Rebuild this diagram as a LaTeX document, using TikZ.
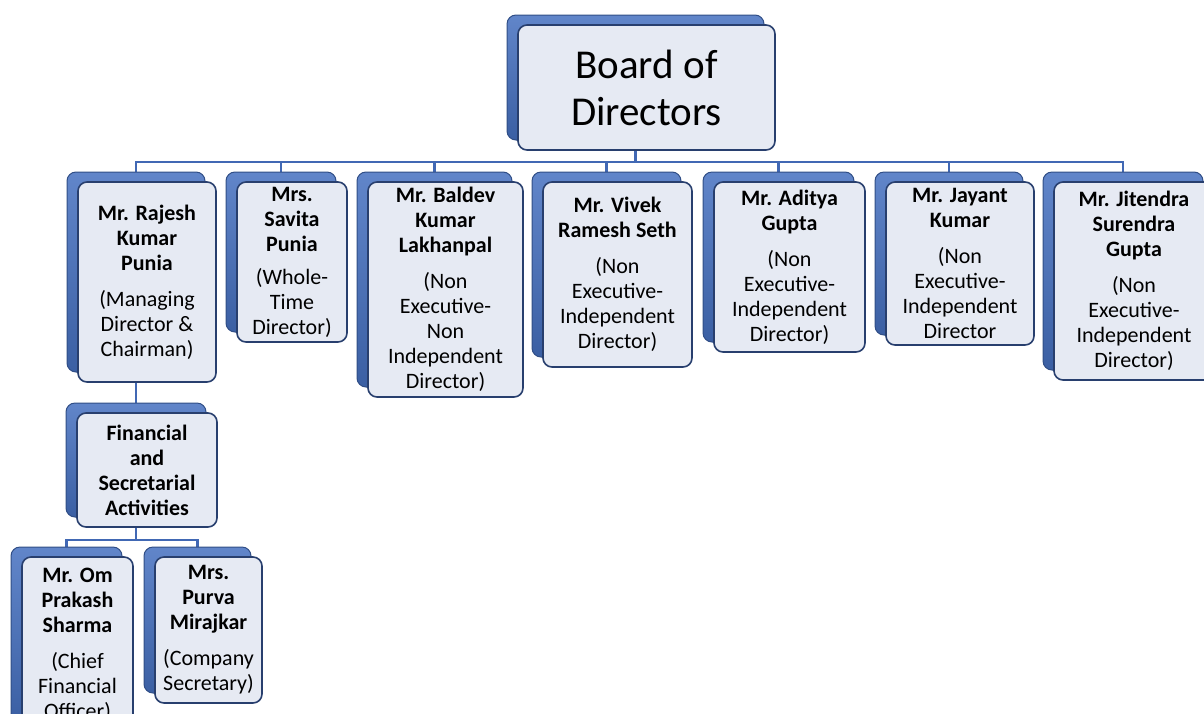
\documentclass[tikz,border=0pt]{standalone}
\usepackage{fontspec}
\setmainfont{Carlito}
\usepackage{xcolor}
\usepackage{tikz}
\usetikzlibrary{shadows}
\usetikzlibrary{backgrounds}
\definecolor{linecolor}{HTML}{4168B4}
\definecolor{backcolor}{HTML}{4570C0}
\definecolor{edgecolor}{HTML}{283F6E}
\definecolor{facecolor}{HTML}{E6EAF3}

\begin{document}
\begin{tikzpicture}[x=1pt,y=-1pt,
  card/.style={draw=edgecolor, line width=1.6pt, fill=facecolor, rounded corners=9pt,
    align=center, inner sep=0pt, font=\fontsize{22}{25}\selectfont,
    general shadow={shadow xshift=-11pt, shadow yshift=10pt, draw=backcolor!70!black,
      line width=1pt, top color=backcolor!85!white, bottom color=backcolor!85!black}},
  link/.style={linecolor, line width=2.4pt}]
\useasboundingbox (0,0) rectangle (1204,713);
\node[card, minimum width=257pt, minimum height=125pt, font=\fontsize{41}{47}\selectfont] (board) at (646.5,87.5) {Board of\\Directors};
\node[card, minimum width=138pt, minimum height=200pt] (rajesh) at (147,282)
  {\textbf{Mr. Rajesh}\\\textbf{Kumar}\\\textbf{Punia}\\[11pt](Managing\\Director \&\\Chairman)};
\node[card, minimum width=110pt, minimum height=160pt] (savita) at (292,262)
  {\textbf{Mrs.}\\\textbf{Savita}\\\textbf{Punia}\\[8pt](Whole-\\Time\\Director)};
\node[card, minimum width=155pt, minimum height=215pt] (baldev) at (445.5,289.5)
  {\textbf{Mr. Baldev}\\\textbf{Kumar}\\\textbf{Lakhanpal}\\[11pt](Non\\Executive-\\Non\\Independent\\Director)};
\node[card, minimum width=149pt, minimum height=185pt] (vivek) at (617.5,274.5)
  {\textbf{Mr. Vivek}\\\textbf{Ramesh Seth}\\[11pt](Non\\Executive-\\Independent\\Director)};
\node[card, minimum width=151pt, minimum height=170pt] (aditya) at (789.5,267)
  {\textbf{Mr. Aditya}\\\textbf{Gupta}\\[11pt](Non\\Executive-\\Independent\\Director)};
\node[card, minimum width=148pt, minimum height=163pt] (jayant) at (960,263.5)
  {\textbf{Mr. Jayant}\\\textbf{Kumar}\\[11pt](Non\\Executive-\\Independent\\Director};
\node[card, minimum width=160pt, minimum height=198pt] (jitendra) at (1134,281)
  {\textbf{Mr. Jitendra}\\\textbf{Surendra}\\\textbf{Gupta}\\[11pt](Non\\Executive-\\Independent\\Director)};
\node[card, minimum width=140pt, minimum height=114pt] (fin) at (147,470)
  {\textbf{Financial}\\\textbf{and}\\\textbf{Secretarial}\\\textbf{Activities}};
\node[card, minimum width=111pt, minimum height=175pt] (om) at (77.5,644.5)
  {\textbf{Mr. Om}\\\textbf{Prakash}\\\textbf{Sharma}\\[11pt](Chief\\Financial\\Officer)};
\node[card, minimum width=107pt, minimum height=146pt] (purva) at (208.5,630)
  {\textbf{Mrs.}\\\textbf{Purva}\\\textbf{Mirajkar}\\[11pt](Company\\Secretary)};
\begin{scope}[on background layer]
\coordinate (bus) at (0,162);
\coordinate (subbus) at (0,540);
\foreach \who in {rajesh,savita,baldev,vivek,aditya,jayant,jitendra}
  \draw[link] ([xshift=-11pt]board.south) -- ([xshift=-11pt]board.south |- bus) -| ([xshift=-11pt]\who.north);
\draw[link] ([xshift=-11pt]rajesh.south) -- ([xshift=-11pt]fin.north);
\foreach \who in {om,purva}
  \draw[link] ([xshift=-11pt]fin.south) -- ([xshift=-11pt]fin.south |- subbus) -| ([xshift=-11pt]\who.north);
\end{scope}
\end{tikzpicture}
\end{document}
